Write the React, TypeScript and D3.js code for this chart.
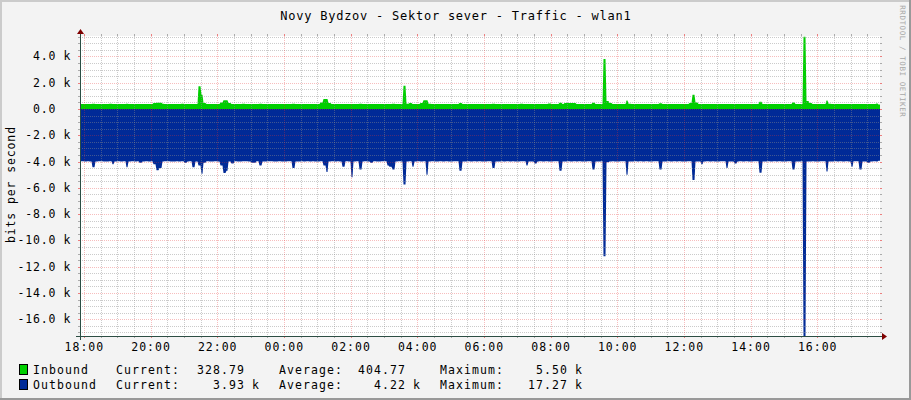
import React from 'react';
import * as d3 from 'd3';

// Inbound traffic, k bits/s, 5-minute samples starting 17:55
const IN_K = [
  .38,.38,.37,.38,.39,.38,.38,.37,.38,.38,.39,.38,.38,.38,.37,.38,.39,.38,.38,.37,.38,.38,.38,.37,
  .37,.38,.45,.48,.48,.40,.38,.37,.38,.38,.37,.38,.39,.38,.37,.38,.38,.38,1.72,1.09,.45,.38,.37,.38,
  .38,.38,.50,.66,.66,.45,.38,.37,.38,.38,.39,.38,.37,.38,.38,.37,.39,.38,.38,.37,.38,.38,.38,.37,
  .38,.37,.38,.38,.39,.38,.38,.37,.38,.38,.38,.37,.38,.38,.50,.76,.76,.45,.38,.38,.37,.38,.38,.38,
  .38,.37,.38,.38,.39,.38,.38,.38,.37,.38,.38,.38,.37,.38,.38,.38,.39,.38,.38,.38,1.77,.40,.46,.38,
  .38,.37,.45,.66,.66,.40,.38,.38,.37,.38,.38,.38,.37,.38,.38,.38,.45,.38,.37,.38,.38,.38,.37,.38,
  .38,.38,.37,.38,.39,.38,.38,.37,.38,.38,.38,.37,.38,.38,.39,.38,.38,.37,.38,.38,.38,.37,.38,.38,
  .42,.38,.38,.37,.48,.38,.45,.45,.45,.45,.38,.37,.38,.38,.38,.37,.48,.38,.38,.37,3.80,.60,.45,.38,
  .38,.37,.38,.38,.65,.40,.38,.37,.38,.38,.38,.37,.38,.38,.38,.37,.43,.38,.38,.37,.38,.38,.38,.37,
  .38,.38,.37,.45,1.09,.50,.38,.37,.38,.38,.38,.37,.38,.38,.38,.37,.38,.38,.38,.37,.38,.38,.38,.37,
  .38,.38,.37,.38,.55,.38,.38,.37,.38,.38,.38,.37,.38,.38,.38,.37,.50,.38,.38,.37,5.50,.60,.45,.38,
  .38,.38,.37,.38,.65,.40,.38,.37,.38,.38,.38,.37,.38,.38,.38,.37,.38,.38,.38,.37,.38,.38,.42,.33,
];

// Outbound traffic, k bits/s (drawn below zero)
const OUT_K = [
  3.98,4.00,3.97,3.99,4.43,4.00,3.98,3.97,4.00,3.99,3.98,4.20,3.99,3.98,4.00,3.97,4.43,3.99,3.98,4.00,3.97,4.10,3.99,3.98,
  3.99,3.98,4.20,4.66,4.50,4.00,3.98,3.97,4.00,3.99,3.98,4.00,3.97,4.10,3.99,3.98,4.43,4.00,4.30,4.92,4.10,3.98,3.99,4.00,
  3.98,3.99,4.30,4.87,4.70,4.00,4.15,3.98,3.99,4.00,3.97,3.98,3.99,4.10,4.10,3.98,4.30,4.00,3.99,3.98,3.97,4.00,3.99,3.98,
  3.99,4.00,3.98,3.97,4.50,3.99,4.00,3.98,3.99,3.97,4.00,3.98,3.99,4.00,3.98,4.30,4.80,3.99,3.98,4.00,3.97,3.99,4.40,3.98,
  4.00,5.20,3.99,3.98,4.60,4.00,3.97,3.99,4.10,3.98,4.00,3.99,3.97,3.98,4.30,4.40,4.60,4.00,3.98,3.99,5.75,4.00,3.98,4.40,
  3.99,3.98,4.00,3.97,5.00,3.99,3.98,4.00,3.99,3.97,4.00,3.98,3.99,4.00,3.98,3.97,4.70,3.99,4.00,3.98,3.99,3.97,4.00,3.98,
  3.99,4.00,3.98,3.97,4.50,3.99,4.00,3.98,3.99,3.97,4.00,3.98,3.99,4.00,3.98,3.97,4.30,3.99,4.00,4.15,3.99,3.97,4.00,3.98,
  3.99,4.00,3.98,3.97,4.70,3.99,4.00,3.98,3.99,3.97,4.00,3.98,3.99,4.00,3.98,3.97,4.60,3.99,4.00,3.98,11.20,4.05,4.00,3.98,
  3.99,4.00,3.98,3.97,5.00,3.99,4.00,3.98,3.99,3.97,4.00,3.98,3.99,4.00,3.98,3.97,4.60,3.99,4.00,3.98,3.99,3.97,4.00,3.98,
  3.99,4.00,3.98,3.97,5.40,3.99,4.00,4.20,3.99,3.97,4.00,3.98,3.99,4.00,3.98,3.97,4.50,3.99,4.00,4.15,3.99,3.97,4.00,3.98,
  3.99,4.00,3.98,3.97,4.85,3.99,4.00,3.98,3.99,3.97,4.00,3.98,3.99,4.00,3.98,3.97,4.60,3.99,4.00,3.98,17.27,4.00,3.99,3.98,
  3.99,4.00,3.98,3.97,4.75,3.99,4.00,3.98,3.99,3.97,4.00,3.98,3.99,4.40,3.98,3.97,4.60,3.99,4.00,4.10,3.99,3.97,4.00,3.93,
];

const X_LABELS = ['18:00','20:00','22:00','00:00','02:00','04:00','06:00','08:00','10:00','12:00','14:00','16:00'];
const Y_TICKS = [4000, 2000, 0, -2000, -4000, -6000, -8000, -10000, -12000, -14000, -16000];
const Y_NUMS = ['4.0','2.0','0.0','-2.0','-4.0','-6.0','-8.0','-10.0','-12.0','-14.0','-16.0'];
const Y_UNITS = ['k','k','','k','k','k','k','k','k','k','k'];

const TITLE = 'Novy Bydzov - Sektor sever - Traffic - wlan1';
const Y_TITLE = 'bits per second';
const WATERMARK = 'RRDTOOL / TOBI OETIKER';

const SERIES_NAMES = ['Inbound', 'Outbound'];
const SERIES_COLORS = ['#00CF00', '#002A97'];
const CUR_VALS = ['328.79', '3.93'];
const CUR_UNITS = ['', 'k'];
const AVG_VALS = ['404.77', '4.22'];
const AVG_UNITS = ['', 'k'];
const MAX_VALS = ['5.50', '17.27'];
const MAX_UNITS = ['k', 'k'];

const W = 911, H = 400;
const X0 = 80, X1 = 880, Y0 = 336, Y1 = 36;
const T0 = new Date(2024, 0, 1, 17, 53);
const T1 = new Date(2024, 0, 2, 17, 53);
const FIRST = new Date(2024, 0, 1, 17, 55);
const STEP_MS = 300000;
const FONT = '"DejaVu Sans Mono", monospace';

function Mono(props: { x: number; y: number; fs?: number; pitch?: number; anchor?: string; fill?: string; children: React.ReactNode; transform?: string }) {
  const fs = props.fs ?? 11.5;
  const pitch = props.pitch ?? 8;
  const ls = pitch - fs * 0.602;
  let x = props.x;
  if (props.anchor === 'end') x += ls;
  if (props.anchor === 'middle') x += ls / 2;
  return (
    <text x={x} y={props.y} fontFamily={FONT} fontSize={fs} letterSpacing={ls}
      textAnchor={props.anchor ?? 'start'} fill={props.fill ?? '#000'} transform={props.transform}
      style={{ whiteSpace: 'pre' }}>
      {props.children}
    </text>
  );
}

export default function App() {
  const x = d3.scaleTime().domain([T0, T1]).range([X0, X1]);
  const y = d3.scaleLinear().domain([-17270, 5550]).range([Y0, Y1]);

  // rrdtool-like rendering: one vertex per pixel column, value = sample covering that column's time
  const cols = d3.range(X0, X1 + 1);
  const sampleAt = (arr: number[], c: number) => {
    const t = x.invert(c + 0.5).getTime();
    const idx = Math.max(0, Math.min(arr.length - 1, Math.floor((t - FIRST.getTime()) / STEP_MS)));
    return arr[idx] * 1000;
  };
  const area = d3.area<number>().x(c => c + 0.5).y0(y(0));
  const inPath = area.y1(c => y(sampleAt(IN_K, c)))(cols) || '';
  const outPath = area.y1(c => y(-sampleAt(OUT_K, c)))(cols) || '';

  const minorY = d3.range(-17000, 5501, 500).filter(v => v % 2000 !== 0);
  const majorY = d3.range(-16000, 5501, 2000);
  const halfHours = d3.timeMinute.every(30)!.range(T0, T1);
  const isMajor = (t: Date) => t.getMinutes() === 0 && t.getHours() % 2 === 0;
  const majorT = halfHours.filter(isMajor);
  const minorT = halfHours.filter(t => !isMajor(t));

  const ry = (v: number) => Math.round(y(v)) + 0.5;
  const rx = (t: Date) => Math.round(x(t)) + 0.5;
  const minorCol = 'rgba(140,140,140,0.45)';
  const majorCol = 'rgba(230,50,50,0.32)';
  const minorTick = 'rgba(140,140,140,0.7)';
  const majorTick = 'rgba(230,50,50,0.6)';

  return (
    <svg width={W} height={H} viewBox={`0 0 ${W} ${H}`} style={{ position: 'absolute', left: 0, top: 0, display: 'block' }}>
      <rect x={0} y={0} width={W} height={H} fill="#F3F3F3" />
      <rect x={0} y={0} width={W} height={2} fill="#CBCBCB" />
      <rect x={0} y={0} width={2} height={H} fill="#CBCBCB" />
      <rect x={W - 2} y={0} width={2} height={H} fill="#999999" />
      <rect x={0} y={H - 2} width={W} height={2} fill="#999999" />

      <Mono x={W / 2} y={19.5} fs={12} pitch={7.98} anchor="middle">{TITLE}</Mono>

      <rect x={X0} y={Y1} width={X1 - X0} height={Y0 - Y1} fill="#FFFFFF" />
      <defs>
        <clipPath id="plot"><rect x={X0} y={Y1 - 1} width={X1 - X0} height={Y0 - Y1 + 1} /></clipPath>
      </defs>
      <g clipPath="url(#plot)">
        <path d={outPath} fill={SERIES_COLORS[1]} />
        <path d={inPath} fill={SERIES_COLORS[0]} />
      </g>

      {/* grid */}
      <g strokeWidth={1} shapeRendering="crispEdges">
        {minorY.map(v => (
          <g key={'my' + v}>
            <line x1={X0} x2={X1} y1={ry(v)} y2={ry(v)} stroke={minorCol} strokeDasharray="1,1" />
            <line x1={X0 - 2} x2={X0} y1={ry(v)} y2={ry(v)} stroke={minorTick} />
            <line x1={X1} x2={X1 + 2} y1={ry(v)} y2={ry(v)} stroke={minorTick} />
          </g>
        ))}
        {minorT.map(t => (
          <g key={'mt' + t.getTime()}>
            <line x1={rx(t)} x2={rx(t)} y1={Y1} y2={Y0} stroke={minorCol} strokeDasharray="1,1" />
            <line x1={rx(t)} x2={rx(t)} y1={Y0} y2={Y0 + 2} stroke={minorTick} />
            <line x1={rx(t)} x2={rx(t)} y1={Y1 - 2} y2={Y1} stroke={minorTick} />
          </g>
        ))}
        {majorY.map(v => (
          <g key={'My' + v}>
            <line x1={X0} x2={X1} y1={ry(v)} y2={ry(v)} stroke={majorCol} strokeDasharray="1,1" />
            <line x1={X0 - 2} x2={X0} y1={ry(v)} y2={ry(v)} stroke={majorTick} />
            <line x1={X1} x2={X1 + 2} y1={ry(v)} y2={ry(v)} stroke={majorTick} />
          </g>
        ))}
        {majorT.map(t => (
          <g key={'Mt' + t.getTime()}>
            <line x1={rx(t)} x2={rx(t)} y1={Y1} y2={Y0} stroke={majorCol} strokeDasharray="1,1" />
            <line x1={rx(t)} x2={rx(t)} y1={Y0} y2={Y0 + 2} stroke={majorTick} />
            <line x1={rx(t)} x2={rx(t)} y1={Y1 - 2} y2={Y1} stroke={majorTick} />
          </g>
        ))}
      </g>

      {/* axes */}
      <g stroke="#2C4D43" strokeWidth={1} shapeRendering="crispEdges">
        <line x1={X0 - 4} x2={X1 + 4} y1={Y0 + 0.5} y2={Y0 + 0.5} />
        <line x1={X0 + 0.5} x2={X0 + 0.5} y1={Y0 + 4} y2={Y1 - 4} />
      </g>
      <path d={`M${X1 + 2},${Y0 - 3} L${X1 + 2},${Y0 + 4} L${X1 + 7},${Y0 + 0.5} Z`} fill="#7F0000" />
      <path d={`M${X0 - 3},${Y1 - 2} L${X0 + 4},${Y1 - 2} L${X0 + 0.5},${Y1 - 7} Z`} fill="#7F0000" />

      {/* y labels */}
      {Y_TICKS.map((v, i) => (
        <g key={'yl' + v}>
          <Mono x={55.5} y={y(v) + 4} pitch={7.76} anchor="end">{Y_NUMS[i]}</Mono>
          {Y_UNITS[i] && <Mono x={63.5} y={y(v) + 4} pitch={7.76}>{Y_UNITS[i]}</Mono>}
        </g>
      ))}
      {/* x labels */}
      {majorT.map((t, i) => (
        <Mono key={'xl' + i} x={x(t)} y={350.5} pitch={7.9} anchor="middle">{X_LABELS[i]}</Mono>
      ))}

      <Mono x={0} y={0} pitch={7.8} anchor="middle" transform="translate(14.5,185) rotate(-90)">{Y_TITLE}</Mono>
      <Mono x={0} y={0} fs={7.5} pitch={5.1} anchor="middle" fill="#A8A8A8" transform="translate(899.5,61) rotate(90)">{WATERMARK}</Mono>

      {/* legend */}
      {SERIES_NAMES.map((name, i) => {
        const by = 373.5 + i * 15.5;
        return (
          <g key={'lg' + i}>
            <rect x={19.5} y={by - 9.5} width={8} height={10} fill={SERIES_COLORS[i]} stroke="#000" strokeWidth={1} shapeRendering="crispEdges" />
            <Mono x={33} y={by}>{name}</Mono>
            <Mono x={116} y={by}>{'Current:'}</Mono>
            <Mono x={244} y={by} anchor="end">{CUR_VALS[i]}</Mono>
            {CUR_UNITS[i] && <Mono x={252} y={by}>{CUR_UNITS[i]}</Mono>}
            <Mono x={279} y={by}>{'Average:'}</Mono>
            <Mono x={405} y={by} anchor="end">{AVG_VALS[i]}</Mono>
            {AVG_UNITS[i] && <Mono x={413} y={by}>{AVG_UNITS[i]}</Mono>}
            <Mono x={440} y={by}>{'Maximum:'}</Mono>
            <Mono x={567} y={by} anchor="end">{MAX_VALS[i]}</Mono>
            {MAX_UNITS[i] && <Mono x={575} y={by}>{MAX_UNITS[i]}</Mono>}
          </g>
        );
      })}
    </svg>
  );
}
